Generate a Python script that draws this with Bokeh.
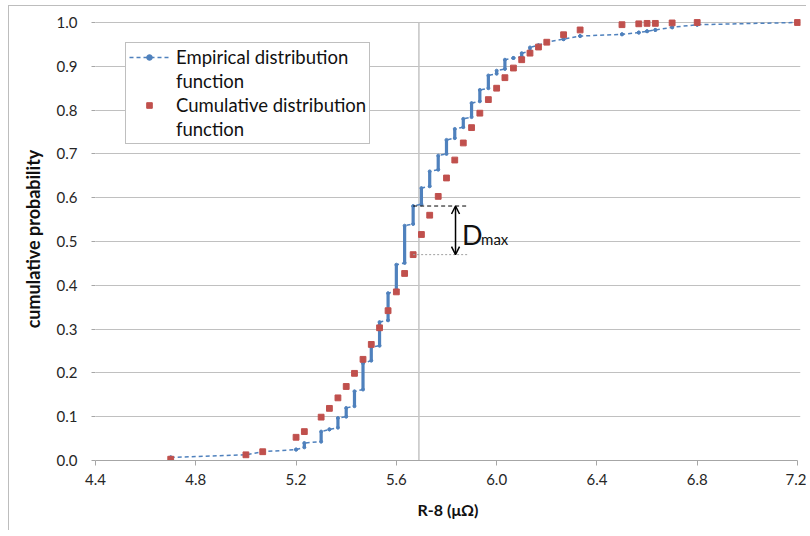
from bokeh.plotting import figure
from bokeh.models import (Range1d, FixedTicker, NumeralTickFormatter, Legend, LegendItem,
                          Arrow, OpenHead, Label)
from bokeh.embed import file_html
from bokeh.resources import INLINE

# ---------------- data ----------------
r8 = [4.70, 5.00, 5.067, 5.20, 5.233, 5.30, 5.333, 5.367, 5.40, 5.433, 5.467, 5.50, 5.533,
      5.567, 5.60, 5.633, 5.667, 5.70, 5.733, 5.767, 5.80, 5.833, 5.867, 5.90, 5.933, 5.967,
      6.00, 6.033, 6.067, 6.10, 6.133, 6.167, 6.20, 6.267, 6.333, 6.50, 6.567, 6.60, 6.633,
      6.70, 6.80, 7.20]
# empirical distribution: lower and upper end of each step
edf_low = [0.007, 0.013, 0.020, 0.025, 0.030, 0.043, 0.071, 0.075, 0.100, 0.124, 0.162, 0.228,
           0.262, 0.320, 0.386, 0.451, 0.540, 0.585, 0.626, 0.664, 0.700, 0.736, 0.761, 0.784,
           0.820, 0.850, 0.883, 0.894, 0.919, 0.922, 0.934, 0.948, 0.955, 0.962, 0.969, 0.973,
           0.977, 0.980, 0.983, 0.989, 0.995, 1.000]
edf_high = [0.007, 0.013, 0.020, 0.025, 0.040, 0.066, 0.071, 0.097, 0.120, 0.158, 0.222, 0.259,
            0.316, 0.382, 0.447, 0.536, 0.581, 0.622, 0.660, 0.696, 0.732, 0.757, 0.780, 0.816,
            0.846, 0.879, 0.890, 0.915, 0.919, 0.930, 0.943, 0.948, 0.955, 0.962, 0.969, 0.973,
            0.977, 0.980, 0.983, 0.989, 0.995, 1.000]
# fitted cumulative distribution function
cdf = [0.003, 0.013, 0.020, 0.053, 0.066, 0.099, 0.119, 0.143, 0.169, 0.199, 0.231, 0.265,
       0.303, 0.342, 0.385, 0.427, 0.470, 0.516, 0.560, 0.603, 0.645, 0.686, 0.725, 0.760,
       0.793, 0.824, 0.850, 0.874, 0.896, 0.915, 0.930, 0.944, 0.955, 0.972, 0.983, 0.995,
       0.997, 0.998, 0.998, 0.999, 1.000, 1.000]

x_ticks = [4.4, 4.8, 5.2, 5.6, 6.0, 6.4, 6.8, 7.2]
y_ticks = [0.0, 0.1, 0.2, 0.3, 0.4, 0.5, 0.6, 0.7, 0.8, 0.9, 1.0]

ks_x = 5.69          # vertical reference line
dmax_x = 5.667       # location of the maximum difference
dmax_hi = 0.581      # EDF value
dmax_lo = 0.470      # CDF value
dmax_end = 5.89      # end of the horizontal guide lines
arrow_x = 5.836
label_x = 5.862
d_label_y = 0.517
sub_label_y = 0.498

BLUE = "#4F81BD"
RED = "#C0504D"
GRID = "#c0c0c0"
FONT = "Lato"

# ---------------- figure ----------------
p = figure(frame_width=705, frame_height=443,
           x_range=Range1d(4.4, 4.4 + 705 / 250.71), y_range=Range1d(0, 443 / 438),
           output_backend="svg", toolbar_location=None,
           min_border_left=86, min_border_right=6, min_border_top=11, min_border_bottom=70,
           background_fill_color="white", border_fill_color="white")
p.outline_line_color = None
p.styles = {"border-left": "1px solid #bdbdbd", "border-top": "1px solid #bdbdbd",
            "margin-left": "8px", "margin-top": "5px"}

# axes
p.xaxis.ticker = FixedTicker(ticks=x_ticks)
p.yaxis.ticker = FixedTicker(ticks=y_ticks)
p.xaxis.formatter = NumeralTickFormatter(format="0.0")
p.yaxis.formatter = NumeralTickFormatter(format="0.0")
p.xaxis.bounds = (x_ticks[0], x_ticks[-1])
for ax in (p.xaxis, p.yaxis):
    ax.major_label_text_font = FONT
    ax.major_label_text_font_size = "15px"
    ax.major_label_text_color = "#262626"
    ax.axis_label_text_font = FONT
    ax.axis_label_text_font_style = "bold"
    ax.axis_label_text_color = "#111111"
    ax.minor_tick_line_color = None
    ax.major_tick_in = 0
    ax.major_tick_line_color = "#a6a6a6"
p.xaxis.axis_label_text_font_size = "16px"
p.yaxis.axis_label_text_font_size = "18px"
p.xaxis.axis_line_color = "#a6a6a6"
p.yaxis.axis_line_color = None
p.xaxis.major_tick_out = 5
p.yaxis.major_tick_out = 4
p.xaxis.major_label_standoff = 8
p.yaxis.major_label_standoff = 14
p.xaxis.axis_label = "R-8 (\u03bc\u03a9)"
p.yaxis.axis_label = "cumulative probability"
p.xaxis.axis_label_standoff = 12
p.yaxis.axis_label_standoff = 10

p.xgrid.grid_line_color = None
p.ygrid.ticker = FixedTicker(ticks=y_ticks)
p.ygrid.grid_line_color = GRID
p.ygrid.grid_line_width = 1

# vertical reference line
p.segment(x0=[ks_x], y0=[y_ticks[0]], x1=[ks_x], y1=[y_ticks[-1]], line_color="#c4c4c4", line_width=1.5)

# empirical distribution function (step path)
path_x, path_y = [], []
for xv, lo, hi in zip(r8, edf_low, edf_high):
    path_x += [xv, xv]
    path_y += [lo, hi]
edf_line = p.line(path_x, path_y, line_color=BLUE, line_width=1.5, line_dash="4 3")
p.segment(x0=r8, y0=edf_low, x1=r8, y1=edf_high, line_color=BLUE, line_width=3.2)
edf_dots = p.scatter(path_x, path_y, marker="circle", size=3, fill_color=BLUE, line_color=BLUE)

# cumulative distribution function
cdf_r = p.scatter(r8, cdf, marker="square", size=5.8, fill_color=RED, line_color=RED)

# D_max annotation
p.line([dmax_x, dmax_end], [dmax_hi, dmax_hi], line_color="black", line_width=1, line_dash="4 3")
p.line([dmax_x, dmax_end], [dmax_lo, dmax_lo], line_color="#a0a0a0", line_width=1, line_dash="2 2")
p.add_layout(Arrow(start=OpenHead(size=8, line_width=1.5), end=OpenHead(size=8, line_width=1.5),
                   x_start=arrow_x, y_start=dmax_hi, x_end=arrow_x, y_end=dmax_lo,
                   line_width=1.5, line_color="black"))
p.add_layout(Label(x=label_x, y=d_label_y, text="D", text_font=FONT,
                   text_font_size="27px", text_color="#111111", text_baseline="alphabetic"))
p.add_layout(Label(x=label_x, y=sub_label_y, x_offset=19, y_offset=3, text="max", text_font=FONT,
                   text_font_size="15px", text_color="#111111", text_baseline="alphabetic"))

# legend
blank = p.scatter(x=[], y=[], size=1, fill_alpha=0, line_alpha=0)
legend = Legend(items=[
    LegendItem(label="Empirical distribution", renderers=[edf_line, edf_dots]),
    LegendItem(label="function", renderers=[blank]),
    LegendItem(label="Cumulative distribution", renderers=[cdf_r]),
    LegendItem(label="function", renderers=[blank]),
], location=(30, 316))
legend.label_text_font = FONT
legend.label_text_font_size = "18.5px"
legend.label_text_color = "#111111"
legend.padding = 3
legend.spacing = 2
legend.label_height = 22
legend.glyph_height = 14
legend.glyph_width = 40
legend.label_standoff = 7
legend.border_line_color = "#7f7f7f"
legend.border_line_width = 1
legend.background_fill_color = "white"
legend.background_fill_alpha = 1
legend.margin = 0
p.add_layout(legend)

open("out.html", "w").write(file_html(p, INLINE))
